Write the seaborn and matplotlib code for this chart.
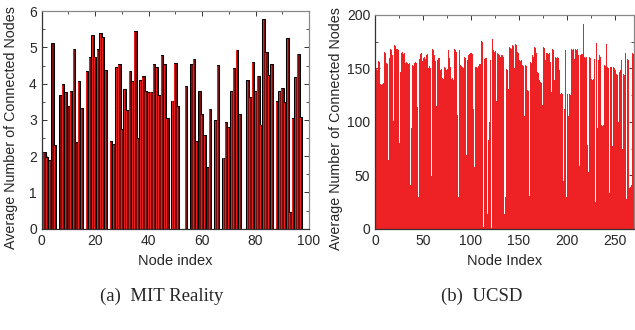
import numpy as np
import pandas as pd
import matplotlib
matplotlib.use("Agg")
import matplotlib.pyplot as plt
import seaborn as sns
from matplotlib.ticker import MultipleLocator
from matplotlib.patches import Rectangle

# ---------------- data ----------------
mit_nodes = list(range(1, 98))
mit_values = [
    2.11, 1.97, 1.89, 5.11, 2.31, 0.00, 3.69, 3.99, 3.76, 3.38,
    3.80, 4.97, 2.39, 4.07, 3.32, 0.00, 4.35, 4.73, 5.35, 4.75,
    4.96, 5.40, 5.28, 4.37, 0.00, 2.42, 2.33, 4.45, 4.54, 2.74,
    3.85, 3.27, 4.36, 4.08, 5.45, 2.49, 4.09, 4.21, 3.80, 3.76,
    3.78, 4.54, 4.46, 3.69, 4.78, 4.54, 3.06, 0.00, 3.53, 4.56,
    3.39, 0.00, 0.00, 3.94, 0.00, 4.54, 4.69, 2.41, 3.79, 3.17,
    2.59, 1.71, 3.31, 0.00, 3.00, 4.52, 0.00, 1.96, 2.93, 2.80,
    3.80, 4.43, 4.94, 3.16, 0.00, 0.00, 4.09, 3.63, 4.59, 3.80,
    4.22, 2.87, 5.78, 4.87, 4.23, 4.55, 0.00, 3.51, 3.80, 3.87,
    3.50, 5.25, 0.46, 3.05, 4.18, 4.83, 3.07,
]

ucsd_nodes = list(range(1, 271))
ucsd_values = [
    161, 150, 148, 157, 156, 135, 134, 135, 136, 165,
    164, 155, 154, 64, 160, 168, 167, 162, 101, 172,
    171, 168, 168, 167, 168, 80, 147, 164, 165, 163,
    164, 155, 156, 155, 154, 155, 41, 94, 153, 152,
    155, 156, 155, 114, 30, 159, 163, 164, 156, 157,
    160, 161, 159, 162, 163, 150, 152, 150, 49, 168,
    167, 162, 157, 115, 158, 160, 160, 148, 149, 141,
    140, 151, 8, 150, 148, 149, 167, 160, 151, 140,
    141, 139, 168, 167, 165, 106, 30, 167, 153, 152,
    151, 150, 161, 160, 69, 158, 158, 162, 163, 164,
    164, 163, 112, 58, 151, 151, 150, 152, 154, 154,
    176, 175, 2, 159, 160, 160, 14, 83, 100, 158,
    157, 1, 177, 167, 165, 166, 119, 164, 163, 162,
    161, 162, 162, 161, 14, 30, 149, 148, 131, 170,
    169, 168, 172, 171, 150, 150, 173, 172, 165, 164,
    158, 157, 158, 153, 152, 105, 153, 152, 130, 129,
    31, 156, 155, 162, 161, 170, 169, 164, 163, 147,
    146, 139, 137, 136, 116, 170, 169, 158, 164, 164,
    163, 164, 156, 128, 168, 167, 139, 161, 160, 161,
    160, 148, 127, 126, 127, 126, 45, 112, 167, 30,
    126, 105, 126, 125, 168, 167, 168, 159, 168, 167,
    168, 162, 59, 162, 163, 163, 192, 191, 161, 160,
    161, 78, 53, 161, 160, 140, 139, 140, 159, 25,
    174, 94, 158, 162, 161, 97, 96, 97, 153, 152,
    174, 173, 151, 150, 33, 151, 151, 77, 151, 150,
    148, 145, 144, 100, 147, 148, 158, 75, 145, 144,
    164, 28, 159, 158, 39, 38, 39, 41, 164, 163,
]

mit_df = pd.DataFrame({"node": mit_nodes, "value": mit_values})
ucsd_df = pd.DataFrame({"node": ucsd_nodes, "value": ucsd_values})

# ---------------- style ----------------
sns.set_theme(style="ticks")
plt.rcParams["font.family"] = ["Liberation Sans", "DejaVu Sans"]
plt.rcParams["xtick.direction"] = "in"
plt.rcParams["ytick.direction"] = "in"

fig = plt.figure(figsize=(6.35, 3.30), dpi=100)
ax1 = fig.add_axes([0.0657, 0.307, 0.421, 0.659])
ax2 = fig.add_axes([0.5906, 0.307, 0.4075, 0.648])

# ---- left: MIT Reality ----
sns.barplot(data=mit_df, x="node", y="value", native_scale=True, ax=ax1,
            color="#7e0d0d", saturation=1, width=0.95,
            edgecolor="#000000", linewidth=0.75, errorbar=None)
# bright red highlight on the left side of each bar
for p in list(ax1.patches):
    h = p.get_height()
    if h <= 0:
        continue
    ax1.add_patch(Rectangle((p.get_x() + 0.14, 0), p.get_width() * 0.36, h - 0.02,
                            facecolor="#e3201c", edgecolor="none", zorder=p.get_zorder() + 0.1))

ax1.set_xlim(0, 100)
ax1.set_ylim(0, 6)
ax1.xaxis.set_major_locator(MultipleLocator(20))
ax1.xaxis.set_minor_locator(MultipleLocator(10))
ax1.yaxis.set_major_locator(MultipleLocator(1))
ax1.yaxis.set_minor_locator(MultipleLocator(0.5))
ax1.set_xlabel("Node index", fontsize=10.5, labelpad=5)
ax1.set_ylabel("Average Number of Connected Nodes", fontsize=10.3)
ax1.yaxis.set_label_coords(-0.087, 0.465)

# ---- right: UCSD ----
sns.barplot(data=ucsd_df, x="node", y="value", native_scale=True, ax=ax2,
            color="#ee2224", saturation=1, width=1.0, linewidth=0,
            errorbar=None)
ax2.set_xlim(0, 270)
ax2.set_ylim(0, 200)
ax2.xaxis.set_major_locator(MultipleLocator(50))
ax2.xaxis.set_minor_locator(MultipleLocator(25))
ax2.yaxis.set_major_locator(MultipleLocator(50))
ax2.yaxis.set_minor_locator(MultipleLocator(25))
ax2.set_xlabel("Node Index", fontsize=10.5, labelpad=5)
ax2.set_ylabel("Average Number of Connected Nodes", fontsize=10.3)
ax2.yaxis.set_label_coords(-0.125, 0.47)

for ax in (ax1, ax2):
    ax.tick_params(which="both", top=True, right=True, direction="in",
                   labelsize=10, pad=3.5, color="#333333")
    ax.tick_params(which="major", length=3.5, width=0.7)
    ax.tick_params(which="minor", length=2, width=0.6)
    for s in ax.spines.values():
        s.set_linewidth(0.9)
        s.set_color("#333333")
    ax.spines["top"].set_color("#888888")
    ax.spines["right"].set_color("#888888")

fig.text(0.254, 0.103, "(a)  MIT Reality", ha="center", va="center",
         fontsize=13.5, family=["Liberation Serif", "DejaVu Serif"])
fig.text(0.758, 0.103, "(b)  UCSD", ha="center", va="center",
         fontsize=13.5, family=["Liberation Serif", "DejaVu Serif"])

fig.savefig("out.png", dpi=100, facecolor="white")
